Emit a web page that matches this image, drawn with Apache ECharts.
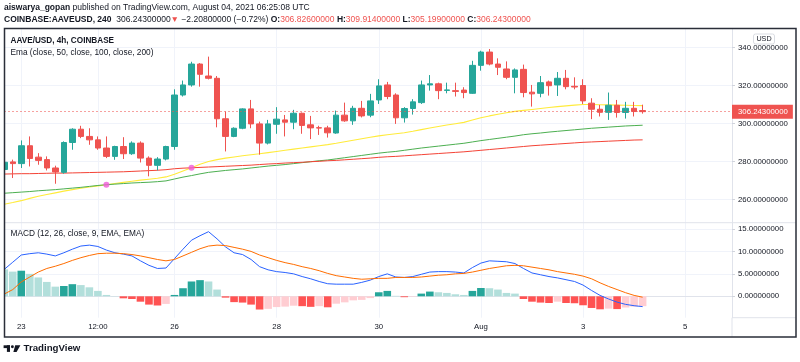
<!DOCTYPE html>
<html><head><meta charset="utf-8">
<script src="https://cdn.jsdelivr.net/npm/echarts@6/dist/echarts.min.js"></script>
<style>html,body{margin:0;padding:0;background:#fff}#c{width:800px;height:362px}</style>
</head><body><div id="c"></div>
<script>
// ---------- data (AAVE/USD 4h, Jul 22 16:00 -> Aug 4 04:00 UTC) ----------
const opens = [275.8,279.8,278.9,288.3,282.3,281.0,276.6,274.3,290.0,297.0,
 293.2,291.4,287.1,282.7,287.9,284.1,289.7,281.8,278.0,281.3,
 287.9,315.0,320.3,331.3,325.0,323.8,302.5,293.2,297.5,307.7,
 299.8,289.7,299.6,301.9,300.7,305.4,299.3,297.8,297.7,295.0,
 304.4,301.4,308.0,304.4,312.4,320.3,315.0,303.0,307.9,311.0,
 320.3,320.9,317.4,317.3,317.6,315.9,330.6,337.6,331.3,328.7,
 324.3,328.5,316.5,315.9,321.9,320.3,323.8,319.6,320.0,310.7,
 307.5,305.9,309.6,305.8,308.0,306.826];
const closes = [279.6,278.9,288.3,281.6,280.6,276.6,274.5,290.0,297.0,293.2,
 291.4,287.1,282.7,287.9,284.1,289.7,281.8,278.0,281.3,287.9,
 315.0,320.3,331.3,325.9,323.8,302.5,293.2,297.5,307.7,299.8,
 289.7,299.8,302.3,300.7,305.4,299.0,297.7,297.6,295.1,304.4,
 301.4,308.0,304.0,311.9,319.8,314.2,303.0,307.9,311.4,320.3,
 320.9,317.3,317.7,316.9,316.3,330.6,337.6,331.3,329.6,324.3,
 328.2,316.3,315.6,321.5,319.9,323.8,319.4,319.2,311.9,307.5,
 305.9,309.6,305.8,308.0,306.3,306.243];
const highs = [280.5,281.0,291.1,293.2,284.4,282.7,277.8,290.6,297.5,298.8,
 297.5,293.2,293.2,288.3,292.8,290.6,290.6,282.7,282.3,288.3,
 318.0,322.6,332.5,331.8,335.2,325.0,306.3,298.0,308.0,312.4,
 301.0,301.9,308.6,304.5,307.2,305.8,304.0,298.8,298.8,306.8,
 311.0,309.3,311.9,315.6,323.3,321.9,315.9,308.6,312.8,322.6,
 325.5,321.5,321.5,321.5,319.1,333.0,338.3,339.2,334.3,332.7,
 329.0,331.0,320.3,325.0,322.6,327.1,328.2,324.3,323.3,313.3,
 309.8,316.3,312.4,311.4,311.4,309.914];
const lows = [274.5,271.3,276.6,277.4,278.3,275.3,268.3,273.6,286.2,292.3,
 288.8,286.2,281.8,280.9,281.3,283.5,279.5,272.2,275.3,280.6,
 286.2,314.2,319.4,319.4,323.2,298.0,285.3,292.8,297.0,297.5,
 283.6,289.0,294.6,293.2,297.0,294.6,291.8,294.0,292.6,294.6,
 300.9,299.3,303.2,303.3,310.3,312.8,299.8,300.5,304.7,310.3,
 317.3,312.8,315.9,314.2,313.3,315.6,327.8,330.6,325.5,323.3,
 315.9,313.8,308.9,313.8,314.7,314.5,318.0,318.0,310.3,302.3,
 303.7,301.9,303.1,302.6,303.7,305.199];
const ema50 = [257.5,258.4,259.4,260.6,261.7,262.6,263.5,264.4,265.2,265.9,
 266.6,267.2,267.8,268.4,269.0,269.6,270.2,270.7,271.2,271.9,
 273.3,275.0,276.7,278.6,280.0,281.0,281.8,282.4,283.0,283.6,
 284.1,284.7,285.3,285.9,286.5,287.1,287.7,288.3,288.9,289.6,
 290.4,291.2,292.0,292.8,293.5,294.1,294.6,295.1,295.9,296.8,
 297.6,298.4,299.2,299.9,300.6,301.8,303.0,304.0,304.9,305.7,
 306.4,306.9,307.4,307.9,308.4,308.9,309.3,309.7,310.0,310.0,
 309.9,309.8,309.7,309.6,309.5,309.4];
const ema100 = [263.3,263.6,263.9,264.2,264.6,264.9,265.2,265.6,266.0,266.4,
 266.9,267.4,267.8,268.1,268.4,268.7,268.9,269.1,269.4,269.8,
 270.8,271.8,272.6,273.5,274.3,274.8,275.3,275.7,276.1,276.6,
 277.1,277.6,278.0,278.4,278.9,279.4,279.9,280.4,280.8,281.4,
 282.0,282.6,283.2,283.8,284.4,284.9,285.3,285.9,286.5,287.1,
 287.6,288.1,288.6,289.1,289.6,290.3,291.0,291.6,292.2,292.8,
 293.4,294.1,294.6,295.0,295.5,295.9,296.3,296.7,297.1,297.5,
 297.8,298.1,298.4,298.7,298.9,299.1];
const ema200 = [273.4,273.5,273.6,273.6,273.7,273.8,273.9,273.9,274.0,274.1,
 274.2,274.3,274.4,274.5,274.6,274.8,275.0,275.2,275.4,275.7,
 276.2,276.5,276.7,276.9,277.1,277.3,277.5,277.7,277.9,278.1,
 278.4,278.7,278.9,279.2,279.4,279.6,279.9,280.1,280.4,280.6,
 280.9,281.2,281.5,281.8,282.2,282.5,282.7,283.0,283.3,283.6,
 283.9,284.2,284.5,284.8,285.1,285.5,285.9,286.3,286.7,287.1,
 287.5,287.9,288.3,288.6,288.9,289.2,289.5,289.8,290.1,290.3,
 290.5,290.7,290.9,291.1,291.3,291.4];
const crossIdx = [12, 22];
const crossVal = [267.8, 276.7];
const macdLine = [6.0,7.6,9.2,9.5,9.7,9.4,9.0,9.7,10.5,11.2,
 11.4,11.1,10.3,9.7,9.4,9.0,7.9,6.9,6.2,6.3,
 8.4,10.5,12.5,13.5,14.4,12.8,11.0,9.7,9.3,8.2,
 6.6,5.9,5.5,5.3,5.0,4.4,3.9,3.3,2.8,2.7,
 2.7,2.7,3.1,3.6,4.4,5.0,4.3,4.2,4.4,4.9,
 5.4,5.5,5.5,5.4,5.2,6.4,7.4,7.9,7.8,7.7,
 7.3,6.2,5.2,4.8,4.4,4.1,3.7,3.3,2.5,1.3,
 0.2,-0.6,-1.3,-1.8,-2.1,-2.3];
const signalLine = [0.5,1.5,3.2,4.3,5.4,6.2,6.7,7.3,8.0,8.6,
 9.1,9.5,9.6,9.6,9.5,9.3,9.0,8.6,8.2,7.9,
 8.2,9.0,9.8,10.6,11.2,11.4,11.3,10.9,10.5,10.0,
 9.2,8.6,8.0,7.5,7.1,6.6,6.2,5.7,5.1,4.6,
 4.3,4.0,3.8,3.9,4.0,4.0,4.2,4.2,4.2,4.3,
 4.5,4.7,4.8,5.0,5.1,5.4,5.8,6.2,6.5,6.8,
 6.9,6.8,6.5,6.2,5.9,5.5,5.2,4.9,4.5,3.9,
 3.0,2.2,1.5,0.8,0.2,-0.2];
const macdHist = [6.0,5.5,5.7,5.0,4.2,3.2,2.15,2.3,2.7,2.5,
 2.0,1.2,0.3,0.05,-0.45,-0.6,-1.2,-1.85,-2.05,-1.7,
 0.3,1.8,3.3,3.6,3.3,1.5,-0.3,-1.3,-1.4,-1.85,
 -2.95,-2.8,-2.4,-2.3,-2.1,-2.2,-2.35,-2.2,-2.45,-1.65,
 -1.35,-0.9,-0.8,-0.4,0.9,1.2,0.1,-0.2,-0.1,0.6,
 1.05,0.9,0.75,0.45,0.3,1.2,1.85,1.8,1.5,0.75,
 0.6,-0.6,-1.2,-1.4,-1.5,-1.2,-1.5,-1.55,-2.0,-2.6,
 -2.9,-2.75,-2.85,-2.5,-2.3,-2.2];
const tickCats = ['07-23 00:00','07-24 12:00','07-26 00:00','07-28 00:00','07-30 00:00','08-01 00:00','08-03 00:00','08-05 00:00'];
const tickLabels = ['23','12:00','26','28','30','Aug','3','5'];
const priceTicks = [260,280,300,320,340];
const macdTicks = [0,5,10,15];
const lastPrice = 306.243;

// ---------- build ----------
const SLOTS = 86;
const pad = n => (n < 10 ? '0' : '') + n;
const cats = [];
for (let i = 0; i < SLOTS; i++) {
  const d = new Date(Date.UTC(2021, 6, 22, 16) + i * 4 * 3600e3);
  cats.push(pad(d.getUTCMonth() + 1) + '-' + pad(d.getUTCDate()) + ' ' + pad(d.getUTCHours()) + ':00');
}
const labelMap = {};
tickCats.forEach((c, i) => labelMap[c] = tickLabels[i]);
const showTick = (idx, val) => Object.prototype.hasOwnProperty.call(labelMap, val);

const candleData = opens.map((o, i) => [o, closes[i], lows[i], highs[i]]);
const histData = macdHist.map((v, i) => {
  const p = i > 0 ? macdHist[i - 1] : null;
  let c;
  if (v >= 0) c = (p !== null && v > p) ? '#26a69a' : '#b2dfdb';
  else c = (p !== null && v < p) ? '#ff5252' : '#ffcdd2';
  return { value: v, itemStyle: { color: c } };
});

const FONT = '"Liberation Sans", Arial, sans-serif';
const TXT = '#131722';
const GRIDC = '#f0f3fa';
const AXC = '#d1d4dc';
const RED = '#ef5350';

const xBase = (gi, labels) => ({
  type: 'category', gridIndex: gi, data: cats, boundaryGap: true,
  axisLine: { show: labels, lineStyle: { color: '#e0e3eb' } },
  axisTick: { show: false, alignWithLabel: true },
  axisLabel: labels ? { interval: showTick, formatter: v => labelMap[v] || '', fontSize: 7.8, fontFamily: FONT, color: TXT, margin: 5 } : { show: false },
  splitLine: { show: true, interval: showTick, alignWithLabel: true, lineStyle: { color: GRIDC, width: 1 } }
});
const yBase = (gi, min, max, ticks) => ({
  type: 'value', gridIndex: gi, position: 'right', min: min, max: max, scale: true,
  axisLine: { show: true, lineStyle: { color: '#e0e3eb' } },
  axisTick: { show: true, length: 3, customValues: ticks, lineStyle: { color: AXC } },
  axisLabel: { customValues: ticks, formatter: v => v.toFixed(8), fontSize: 7.8, fontFamily: FONT, color: TXT, margin: 6 },
  splitLine: { show: true, lineStyle: { color: GRIDC, width: 1 } }
});

const G = []; // decorations
const txt = (x, y, text, size, weight, extra) => Object.assign({
  type: 'text', x: x, y: y, z: 100,
  style: Object.assign({ text: text, fontSize: size, fontFamily: FONT, fontWeight: weight || 'normal', fill: TXT, verticalAlign: 'middle' }, extra || {})
}, {});
const rb = { fontSize: 8.5, fontFamily: FONT, fontWeight: 'bold', fill: TXT };
const rr = { fontSize: 8.5, fontFamily: FONT, fill: RED };
G.push(txt(4, 7.5, '{b|aiswarya_gopan} published on TradingView.com, August 04, 2021 06:25:08 UTC', 8.5, 'normal', { rich: { b: rb } }));
G.push(txt(4, 19.5, '{b|COINBASE:AAVEUSD, 240}  306.24300000{r|▼} −2.20800000 (−0.72%) {b|O:}{r|306.82600000} {b|H:}{r|309.91400000} {b|L:}{r|305.19900000} {b|C:}{r|306.24300000}', 8.5, 'normal', { rich: { b: rb, r: rr } }));
G.push(txt(10.5, 40.8, 'AAVE/USD, 4h, COINBASE', 8.2, 'bold'));
G.push(txt(10.5, 53, 'Ema (close, 50, close, 100, close, 200)', 8.3));
G.push(txt(10.5, 234, 'MACD (12, 26, close, 9, EMA, EMA)', 8.3));
// pane divider, axis separator lines
G.push({ type: 'line', z: 99, shape: { x1: 4, y1: 222.7, x2: 796, y2: 222.7 }, style: { stroke: '#e0e3eb', lineWidth: 1 } });
G.push({ type: 'line', z: 99, shape: { x1: 732, y1: 317.7, x2: 732, y2: 337 }, style: { stroke: '#e0e3eb', lineWidth: 1 } });
G.push({ type: 'line', z: 99, shape: { x1: 732, y1: 317.7, x2: 796, y2: 317.7 }, style: { stroke: '#e0e3eb', lineWidth: 1 } });
// mask left of frame
G.push({ type: 'rect', z: 99, shape: { x: 0, y: 28, width: 4.5, height: 310 }, style: { fill: '#fff' } });
// frame
G.push({ type: 'rect', z: 101, shape: { x: 4.5, y: 28.5, width: 791.5, height: 308.5 }, style: { fill: 'none', stroke: '#2a2e39', lineWidth: 1.5 } });
// USD badge
G.push({ type: 'rect', z: 100, shape: { x: 753.5, y: 34, width: 21, height: 10, r: 2 }, style: { fill: '#fff', stroke: '#d1d4dc', lineWidth: 0.8 } });
G.push(txt(764, 39.2, 'USD', 7.2, 'normal', { align: 'center' }));
// TradingView logo
G.push({ type: 'rect', z: 100, shape: { x: 3.6, y: 345.3, width: 6.4, height: 2.8 }, style: { fill: TXT } });
G.push({ type: 'rect', z: 100, shape: { x: 6.9, y: 345.3, width: 3.1, height: 6.6 }, style: { fill: TXT } });
G.push({ type: 'circle', z: 100, shape: { cx: 12.4, cy: 346.7, r: 1.45 }, style: { fill: TXT } });
G.push({ type: 'polygon', z: 100, shape: { points: [[15.2, 345.3], [20.4, 345.3], [16.6, 351.9], [13.4, 351.9]] }, style: { fill: TXT } });
G.push(txt(23.5, 348.8, 'TradingView', 9.7, 'bold'));

const option = {
  animation: false,
  backgroundColor: '#ffffff',
  grid: [
    { left: -2.07, right: 68, top: 29, height: 193.7 },
    { left: -2.07, right: 68, top: 222.7, height: 95 }
  ],
  xAxis: [xBase(0, false), xBase(1, true)],
  yAxis: [yBase(0, 247.8, 349.74, priceTicks), yBase(1, -4.77, 16.4, macdTicks)],
  series: [
    { type: 'line', name: 'EMA50', xAxisIndex: 0, yAxisIndex: 0, data: ema50, symbol: 'none', z: 2,
      lineStyle: { color: '#ffeb3b', width: 1.1 } },
    { type: 'line', name: 'EMA100', xAxisIndex: 0, yAxisIndex: 0, data: ema100, symbol: 'none', z: 2,
      lineStyle: { color: '#4caf50', width: 1 } },
    { type: 'line', name: 'EMA200', xAxisIndex: 0, yAxisIndex: 0, data: ema200, symbol: 'none', z: 2,
      lineStyle: { color: '#f44336', width: 1 } },
    { type: 'candlestick', name: 'AAVEUSD', xAxisIndex: 0, yAxisIndex: 0, data: candleData, barWidth: 6, z: 3,
      itemStyle: { color: '#26a69a', color0: RED, borderColor: '#26a69a', borderColor0: RED, borderWidth: 1 },
      markLine: { silent: true, symbol: ['none', 'none'], animation: false,
        data: [{ yAxis: lastPrice }],
        lineStyle: { color: 'rgba(239,83,80,0.55)', type: [2, 2], width: 1 },
        label: { show: true, position: 'end', distance: 0, formatter: () => lastPrice.toFixed(8),
          backgroundColor: RED, color: '#fff', fontSize: 7.8, fontFamily: FONT, padding: [3, 5, 3, 6] } } },
    { type: 'scatter', name: 'cross', xAxisIndex: 0, yAxisIndex: 0, z: 4,
      data: crossIdx.map((k, j) => [k, crossVal[j]]), symbolSize: 6, itemStyle: { color: '#f05bd8' } },
    { type: 'bar', name: 'Histogram', xAxisIndex: 1, yAxisIndex: 1, data: histData, barWidth: 7.6, z: 2 },
    { type: 'line', name: 'MACD', xAxisIndex: 1, yAxisIndex: 1, data: macdLine, symbol: 'none', z: 3,
      lineStyle: { color: '#2962ff', width: 1 } },
    { type: 'line', name: 'Signal', xAxisIndex: 1, yAxisIndex: 1, data: signalLine, symbol: 'none', z: 3,
      lineStyle: { color: '#ff6d00', width: 1 } }
  ],
  graphic: { elements: G }
};
const chart = echarts.init(document.getElementById('c'));
chart.setOption(option);
</script></body></html>
